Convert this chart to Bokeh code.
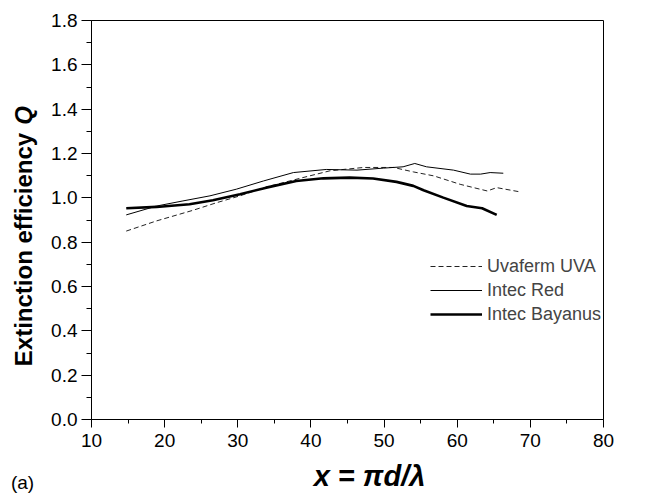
import math
from bokeh.plotting import figure
from bokeh.layouts import row, column
from bokeh.models import Range1d, FixedTicker, Legend, LegendItem
from bokeh.core.properties import value
from bokeh.embed import file_html
from bokeh.resources import INLINE

# ---- data ----
uva_x = [14.75, 18.9, 23.9, 27.1, 30.3, 33.9, 38.5, 42.6, 47.2, 51.3, 54.0, 56.8, 60.4, 64.1, 65.4, 68.4]
uva_y = [0.850, 0.896, 0.944, 0.978, 1.009, 1.049, 1.088, 1.122, 1.137, 1.137, 1.117, 1.099, 1.061, 1.031, 1.046, 1.028]

red_x = [14.75, 18.9, 22.5, 26.2, 29.8, 33.5, 37.6, 42.1, 46.3, 49.9, 52.6, 54.2, 55.8, 59.5, 61.8, 63.2, 64.5, 66.3]
red_y = [0.923, 0.963, 0.986, 1.009, 1.039, 1.076, 1.114, 1.128, 1.125, 1.134, 1.140, 1.155, 1.140, 1.125, 1.107, 1.107, 1.114, 1.111]

bay_x = [14.75, 18.9, 23.4, 26.6, 30.3, 33.9, 38.0, 41.7, 45.3, 48.5, 51.7, 54.0, 55.4, 58.1, 61.3, 63.4, 65.4]
bay_y = [0.953, 0.959, 0.971, 0.989, 1.016, 1.046, 1.076, 1.088, 1.091, 1.087, 1.072, 1.054, 1.034, 1.001, 0.963, 0.953, 0.923]

x_ticks = [10, 20, 30, 40, 50, 60, 70, 80]
x_minor = [15, 25, 35, 45, 55, 65, 75]
y_ticks = [0.0, 0.2, 0.4, 0.6, 0.8, 1.0, 1.2, 1.4, 1.6, 1.8]
y_minor = [0.1, 0.3, 0.5, 0.7, 0.9, 1.1, 1.3, 1.5, 1.7]

series_names = ["Uvaferm UVA", "Intec Red", "Intec Bayanus"]
y_title = ["Extinction efficiency", "Q"]
x_title = "x = πd/λ"
panel_tag = "(a)"

FONT = "Liberation Sans"

MAIN_W, MAIN_H = 600, 460
STRIP_W, BOT_H = 40, 36

# ---------------- main plot ----------------
p = figure(width=MAIN_W, height=MAIN_H,
           output_backend="svg", toolbar_location=None,
           x_range=Range1d(10, 80), y_range=Range1d(0, 1.8),
           min_border_left=51, min_border_top=20, min_border_right=37, min_border_bottom=41)

p.background_fill_color = "white"
p.border_fill_color = "white"
p.outline_line_color = "black"
p.outline_line_width = 1
p.grid.visible = False

p.xaxis.ticker = FixedTicker(ticks=x_ticks, minor_ticks=x_minor)
p.yaxis.ticker = FixedTicker(ticks=y_ticks, minor_ticks=y_minor)
p.xaxis.major_label_overrides = {t: str(t) for t in x_ticks}
p.yaxis.major_label_overrides = {t: f"{t:.1f}" for t in y_ticks}
for ax in (p.xaxis, p.yaxis):
    ax.axis_line_color = "black"
    ax.axis_line_width = 1
    ax.major_tick_line_color = "black"
    ax.minor_tick_line_color = "black"
    ax.major_tick_in = 0
    ax.minor_tick_in = 0
    ax.major_label_text_font = FONT
    ax.major_label_text_font_size = "19px"
    ax.major_label_text_color = "black"
p.xaxis.major_tick_out = 8
p.xaxis.minor_tick_out = 4
p.yaxis.major_tick_out = 10
p.yaxis.minor_tick_out = 5
p.xaxis.major_label_standoff = 6
p.yaxis.major_label_standoff = 4

r_uva = p.line(uva_x, uva_y, line_color="#222222", line_width=1, line_dash="5 3")
r_red = p.line(red_x, red_y, line_color="black", line_width=1)
r_bay = p.line(bay_x, bay_y, line_color="black", line_width=2.6)

legend = Legend(items=[LegendItem(label=series_names[0], renderers=[r_uva]),
                       LegendItem(label=series_names[1], renderers=[r_red]),
                       LegendItem(label=series_names[2], renderers=[r_bay])],
                location=(339, 94), glyph_width=52, glyph_height=22, label_height=22,
                spacing=2, padding=0, margin=0, label_standoff=5,
                label_text_font=FONT, label_text_font_size="18px",
                border_line_color=None, background_fill_alpha=0)
p.add_layout(legend, "center")


def strip(w, h, y0):
    f = figure(width=w, height=h, min_border=0, output_backend="svg",
               toolbar_location=None, title=None,
               x_range=Range1d(0, w), y_range=Range1d(y0 + h, y0),
               x_axis_location=None, y_axis_location=None)
    f.outline_line_color = None
    f.border_fill_color = "white"
    f.background_fill_color = "white"
    f.grid.visible = False
    return f


# ---------------- y title strip (page pixel coordinates) ----------------
ly = strip(STRIP_W, MAIN_H, 0)
ly.text(x=[23], y=[264], text=[y_title[0]], angle=math.pi / 2,
        text_align="center", text_baseline="middle",
        text_font=value(FONT), text_font_size="24px", text_font_style="bold",
        text_color="black")
ly.text(x=[23], y=[109.5], text=[y_title[1]], angle=math.pi / 2,
        text_align="center", text_baseline="middle",
        text_font=value(FONT), text_font_size="24px", text_font_style="bold italic",
        text_color="black")

# ---------------- bottom strip (page pixel coordinates) ----------------
bx = strip(STRIP_W + MAIN_W, BOT_H, MAIN_H)
bx.text(x=[369], y=[475], text=[x_title],
        text_align="center", text_baseline="middle",
        text_font=value(FONT), text_font_size="29px", text_font_style="bold italic",
        text_color="black")
bx.text(x=[22], y=[482], text=[panel_tag],
        text_align="center", text_baseline="middle",
        text_font=value(FONT), text_font_size="19px",
        text_color="black")

layout = column(row(ly, p, spacing=0), bx, spacing=0)

open("out.html", "w").write(file_html(layout, INLINE))
